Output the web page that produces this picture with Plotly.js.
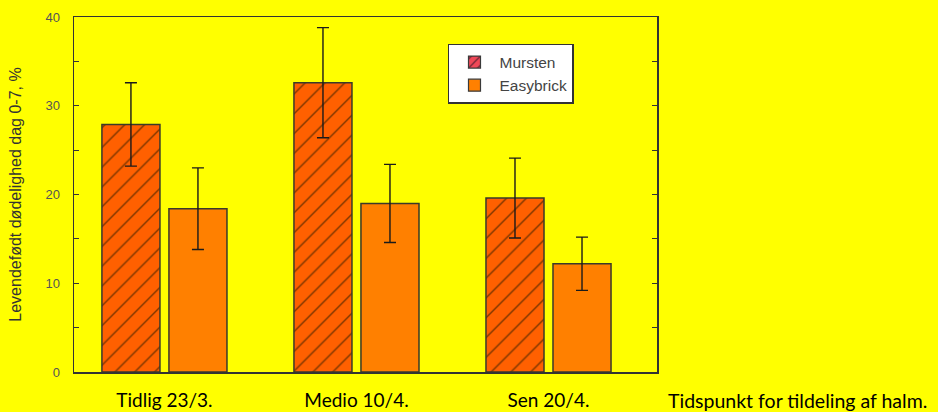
<!DOCTYPE html>
<html>
<head>
<meta charset="utf-8">
<script src="https://cdn.plot.ly/plotly-3.0.1.min.js"></script>
<style>html,body{margin:0;padding:0;background:#ffff00;}#chart{width:938px;height:412px;}</style>
</head>
<body>
<div id="chart"></div>
<script>
const categories = ["Tidlig 23/3.", "Medio 10/4.", "Sen 20/4."];
const seriesNames = ["Mursten", "Easybrick"];
const mursten = [27.9, 32.6, 19.6];
const murstenErr = [4.7, 6.2, 4.5];
const easybrick = [18.4, 19.0, 12.2];
const easybrickErr = [4.6, 4.4, 3.0];
const yTicks = [0, 10, 20, 30, 40];
const yTitle = "Levendefødt dødelighed dag 0-7, %";
const xNote = "Tidspunkt for tildeling af halm.";

const errStyle = {type: 'data', visible: true, color: '#1a1a1a', thickness: 1.4, width: 6};

const traces = [
  {
    type: 'bar', name: seriesNames[0], x: categories, y: mursten, showlegend: false,
    error_y: Object.assign({array: murstenErr}, errStyle),
    marker: {color: '#ff6000', line: {color: '#3a3a2a', width: 1.5},
      pattern: {shape: '/', size: 14, solidity: 0.1, fillmode: 'overlay', fgcolor: '#5a2a00', fgopacity: 0.8}},
    hoverinfo: 'skip'
  },
  {
    type: 'bar', name: seriesNames[1], x: categories, y: easybrick, showlegend: false,
    error_y: Object.assign({array: easybrickErr}, errStyle),
    marker: {color: '#ff8000', line: {color: '#3a3a2a', width: 1.5}},
    hoverinfo: 'skip'
  },
  // legend-only entries (swatch colours differ from bars in the reference)
  {
    type: 'bar', name: seriesNames[0], x: [null], y: [null], xaxis: 'x2', yaxis: 'y2',
    marker: {color: '#f04858', line: {color: '#3a3a3a', width: 1.2},
      pattern: {shape: '/', size: 8, solidity: 0.2, fillmode: 'overlay', fgcolor: '#5a2030', fgopacity: 0.9}}
  },
  {
    type: 'bar', name: seriesNames[1], x: [null], y: [null], xaxis: 'x2', yaxis: 'y2',
    marker: {color: '#ff8000', line: {color: '#3a3a3a', width: 1.2}}
  }
];

const layout = {
  width: 938, height: 412,
  paper_bgcolor: '#ffff00', plot_bgcolor: '#ffff00',
  margin: {l: 74, r: 281, t: 17, b: 40},
  barmode: 'group', bargap: 0.302, bargroupgap: 0.134,
  font: {family: 'Liberation Sans, Arial, sans-serif', color: '#444'},
  xaxis: {
    type: 'category', range: [-0.471, 2.565],
    showline: true, linecolor: '#333', linewidth: 1.5, mirror: true,
    ticks: '', showgrid: false, zeroline: false,
    tickfont: {family: 'Lato, Carlito, sans-serif', size: 19, color: '#000'},
    ticklabelstandoff: 11
  },
  yaxis: {
    range: [0, 40], tickvals: yTicks, ticktext: yTicks.map(String),
    showline: true, linecolor: '#333', linewidth: 1.5, mirror: 'ticks',
    ticks: 'inside', ticklen: 5, tickcolor: '#333', tickwidth: 1.2,
    minor: {dtick: 5, ticks: 'inside', ticklen: 5, tickcolor: '#333', tickwidth: 1.2, showgrid: false},
    showgrid: false, zeroline: false,
    tickfont: {family: 'Liberation Sans, Arial, sans-serif', size: 13, color: '#555'},
    ticklabelstandoff: 10,
    title: {text: yTitle, font: {family: 'Liberation Sans, Arial, sans-serif', size: 16, color: '#333'}, standoff: 20}
  },
  xaxis2: {overlaying: 'x', visible: false, range: [0, 1]},
  yaxis2: {overlaying: 'y', visible: false, range: [0, 1]},
  legend: {
    x: 0.6415, y: 0.924, xanchor: 'left', yanchor: 'top',
    bgcolor: '#ffffff', bordercolor: '#333', borderwidth: 1.5,
    font: {family: 'Liberation Sans, Arial, sans-serif', size: 15.5, color: '#444'},
    tracegroupgap: 0, itemwidth: 40
  },
  annotations: [{
    text: xNote, xref: 'paper', yref: 'paper', x: 1.0155, y: -0.079,
    xanchor: 'left', yanchor: 'middle', showarrow: false,
    font: {family: 'Lato, Carlito, sans-serif', size: 19.5, color: '#000'}
  }]
};

Plotly.newPlot('chart', traces, layout, {displayModeBar: false, staticPlot: true});
</script>
</body>
</html>
